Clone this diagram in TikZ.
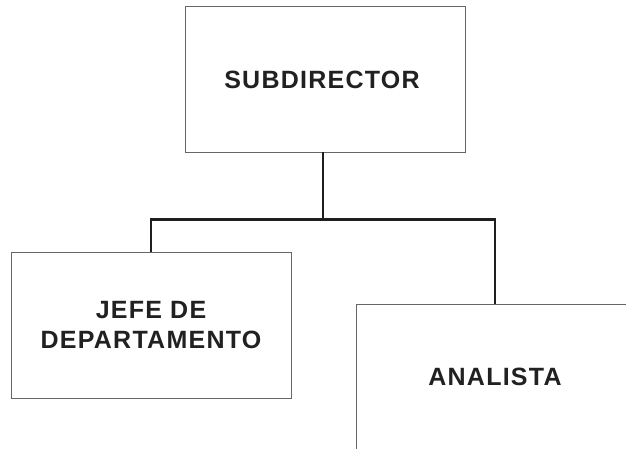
\documentclass[tikz,border=0pt]{standalone}
\usepackage{fontspec}
\newfontfamily\lblfont[LetterSpace=5]{Liberation Sans}
\begin{document}
\begin{tikzpicture}[x=1pt,y=-1pt,
  box/.style={draw=black!60,line width=0.9pt,fill=white,inner sep=0pt,
    minimum width=280pt,minimum height=146pt,align=center,
    font=\lblfont\bfseries\fontsize{25}{30}\selectfont,text=black!87},
  conn/.style={draw=black!88,line width=2.6pt}]
\clip (0,0) rectangle (626,448);
\fill[white] (0,0) rectangle (626,448);
\node[box] (sub) at (325.5,79) {};
\node[font=\lblfont\bfseries\fontsize{25}{30}\selectfont,text=black!87] (subtxt) at (322,80) {SUBDIRECTOR};
\node[box] (jefe) at (151,325.5) {JEFE DE\\DEPARTAMENTO};
\node[box,minimum width=278pt,minimum height=146pt] (ana) at (495,377) {ANALISTA};
\draw[conn] ([xshift=-2.5pt]sub.south) -- ++(0,67) coordinate (j);
\draw[conn] (jefe.north) |- (j) -| (ana.north);
\end{tikzpicture}
\end{document}
